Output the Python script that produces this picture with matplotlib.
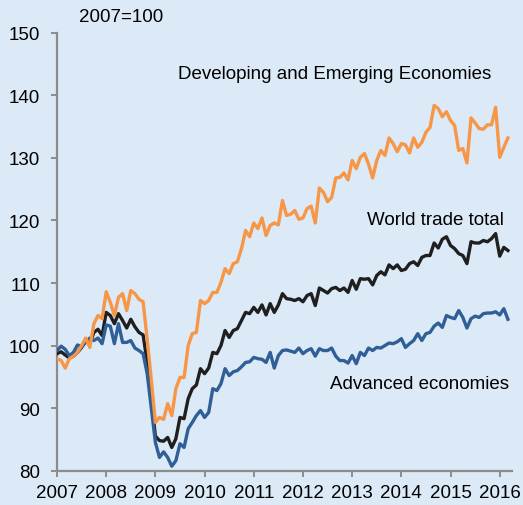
import numpy as np
import matplotlib
matplotlib.use("Agg")
import matplotlib.pyplot as plt

plt.rcParams['font.family'] = ['Liberation Sans', 'DejaVu Sans']

# monthly index, 2007=100, Jan 2007 .. Mar 2016
developing = [
    97.9, 97.6, 96.4, 97.9, 98.3, 98.9, 100.0, 101.2, 99.7, 103.5, 104.8, 104.3,      # 2007
    108.6, 106.9, 104.8, 107.7, 108.3, 105.6, 108.8, 108.3, 107.4, 107.0, 101.0, 94.5,  # 2008
    87.7, 88.5, 88.2, 90.7, 88.8, 93.1, 94.9, 94.9, 100.0, 101.9, 102.1, 107.2,       # 2009
    106.7, 107.2, 108.5, 108.5, 110.1, 112.3, 111.5, 113.1, 113.4, 115.5, 118.4, 117.4,  # 2010
    119.6, 118.7, 120.4, 117.6, 119.2, 119.6, 119.3, 123.2, 120.8, 121.0, 121.6, 120.2,  # 2011
    120.4, 121.9, 122.3, 119.6, 125.2, 124.5, 123.0, 123.7, 126.8, 126.9, 127.6, 126.5,  # 2012
    129.6, 128.3, 130.1, 130.7, 129.0, 126.8, 129.6, 131.2, 130.4, 133.2, 132.3, 131.0,  # 2013
    132.3, 132.1, 130.8, 133.2, 131.7, 132.5, 134.1, 134.9, 138.4, 137.9, 136.6, 137.4,  # 2014
    136.0, 135.2, 131.2, 131.5, 129.2, 136.4, 135.6, 134.7, 134.6, 135.3, 135.3, 138.1,  # 2015
    130.1, 131.7, 133.2,                                                                # 2016
]
world = [
    98.7, 99.0, 98.5, 98.0, 98.3, 98.9, 99.7, 100.8, 100.3, 102.1, 102.6, 101.6,
    105.3, 104.8, 103.5, 105.1, 104.0, 102.8, 104.2, 103.0, 102.1, 101.7, 97.3, 91.5,
    85.5, 84.8, 84.7, 85.3, 83.7, 85.1, 88.5, 88.3, 91.5, 93.1, 93.7, 96.3,
    95.5, 96.4, 98.9, 98.7, 100.0, 102.4, 101.3, 102.4, 102.7, 104.0, 105.3, 105.1,
    106.1, 105.3, 106.5, 104.9, 106.7, 105.3, 106.5, 108.3, 107.5, 107.4, 107.2, 107.5,
    107.0, 108.0, 108.3, 106.4, 109.2, 108.8, 108.4, 109.1, 109.3, 108.8, 109.2, 108.5,
    110.4, 109.0, 110.7, 110.6, 110.7, 109.7, 111.2, 111.8, 111.3, 112.9, 112.3, 112.9,
    112.0, 112.2, 113.1, 113.4, 112.8, 114.1, 114.4, 114.4, 116.4, 115.6, 117.0, 117.4,
    116.0, 115.5, 114.7, 114.4, 113.1, 116.6, 116.4, 116.4, 116.8, 116.6, 117.1, 117.9,
    114.3, 115.7, 115.2,
]
advanced = [
    99.2, 99.9, 99.4, 98.4, 98.9, 100.1, 99.8, 100.5, 101.2, 100.8, 101.2, 100.3,
    103.3, 103.1, 100.3, 103.5, 100.5, 100.5, 100.8, 99.6, 99.2, 98.7, 95.5, 90.0,
    84.5, 82.1, 83.0, 82.1, 80.7, 81.6, 84.3, 83.7, 86.7, 87.7, 88.8, 89.6,
    88.5, 89.3, 93.1, 92.8, 93.9, 96.3, 95.2, 95.8, 96.0, 96.6, 97.3, 97.4,
    98.1, 97.9, 97.8, 97.3, 98.9, 96.4, 98.4, 99.2, 99.3, 99.1, 98.9, 99.6,
    98.7, 99.2, 99.5, 98.3, 99.5, 99.2, 99.2, 99.6, 98.3, 97.6, 97.6, 97.2,
    98.4, 97.1, 98.9, 98.4, 99.6, 99.2, 99.7, 99.6, 100.0, 100.4, 100.3, 100.6,
    101.1, 99.7, 100.3, 100.8, 101.9, 100.8, 101.9, 102.1, 103.1, 103.6, 102.9, 104.8,
    104.5, 104.3, 105.6, 104.5, 102.8, 104.3, 104.7, 104.5, 105.1, 105.2, 105.2, 105.4,
    104.9, 105.9, 104.2,
]
years = list(range(2007, 2017))

t = 2007 + np.arange(len(world)) / 12.0

bg = '#dce9f7'
grey = '#8c8c8c'
fs = 13.5

fig = plt.figure(figsize=(5.23, 5.06), dpi=100, facecolor=bg)
ax = fig.add_axes([0.109, 0.068, 0.870, 0.865], facecolor=bg)

ax.plot(t, world, color='#1f1f1f', lw=2.4, zorder=3)
ax.plot(t, advanced, color='#2f5f96', lw=2.4, zorder=4)
ax.plot(t, developing, color='#f79646', lw=2.4, zorder=5)

ax.set_xlim(2007, 2016.25)
ax.set_ylim(80, 150)
ax.set_xticks(years)
ax.set_xticklabels([str(y) for y in years])
ax.set_yticks(range(80, 151, 10))

for s in ['top', 'right']:
    ax.spines[s].set_visible(False)
for s in ['left', 'bottom']:
    ax.spines[s].set_color(grey)
    ax.spines[s].set_linewidth(1.6)
ax.tick_params(axis='both', direction='out', length=4, width=1.4, color=grey,
               labelsize=fs, labelcolor='black')
ax.tick_params(axis='y', pad=8)
ax.tick_params(axis='x', pad=6)

ax.text(2007.45, 152.7, '2007=100', fontsize=fs, va='center', ha='left', clip_on=False)
ax.text(2009.46, 143.5, 'Developing and Emerging Economies', fontsize=fs, va='center', ha='left')
ax.text(2013.30, 120.1, 'World trade total', fontsize=fs, va='center', ha='left')
ax.text(2012.55, 94.0, 'Advanced economies', fontsize=fs, va='center', ha='left')

fig.savefig('out.png', dpi=100, facecolor=bg)
